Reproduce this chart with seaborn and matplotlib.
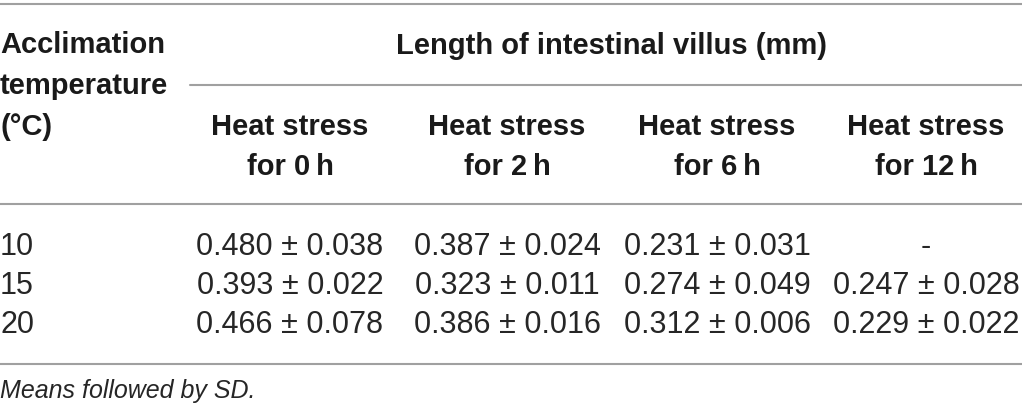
import matplotlib
matplotlib.use("Agg")
import matplotlib.pyplot as plt
import seaborn as sns

# table content
row_labels = ["10", "15", "20"]
col_headers = ["Heat stress\nfor 0\u2009h", "Heat stress\nfor 2\u2009h",
               "Heat stress\nfor 6\u2009h", "Heat stress\nfor 12\u2009h"]
means = [[0.480, 0.387, 0.231, None],
         [0.393, 0.323, 0.274, 0.247],
         [0.466, 0.386, 0.312, 0.229]]
sds = [[0.038, 0.024, 0.031, None],
       [0.022, 0.011, 0.049, 0.028],
       [0.078, 0.016, 0.006, 0.022]]
stub_header = "Acclimation\ntemperature\n(\u00b0C)"
span_header = "Length of intestinal villus (mm)"
footnote = "Means followed by SD."

sns.set_theme(style="white")
plt.rcParams['font.family'] = ['Liberation Sans', 'DejaVu Sans']

fig = plt.figure(figsize=(10.22, 4.15), dpi=100)
ax = fig.add_axes([0, 0, 1, 1])
ax.set_xlim(0, 1022)
ax.set_ylim(415, 0)
ax.axis("off")

ink = "#1a1a1a"
body = "#262626"
rule = "#a0a0a0"
fs_bold = 21
fs_body = 22

# horizontal rules
ax.plot([0, 1022], [4, 4], color=rule, lw=1.5)
ax.plot([190, 1022], [85, 85], color=rule, lw=1.5)
ax.plot([0, 1022], [204, 204], color=rule, lw=1.5)
ax.plot([0, 1022], [364, 364], color=rule, lw=1.5)

ax.text(0, 86, stub_header, ha="left", va="center", fontsize=fs_bold,
        fontweight="bold", color=ink, linespacing=1.6)
ax.text(611, 46, span_header, ha="center", va="center", fontsize=fs_bold,
        fontweight="bold", color=ink)

col_x = [290, 507, 717, 926]
for x, h in zip(col_x, col_headers):
    ax.text(x, 147, h, ha="center", va="center", fontsize=fs_bold,
            fontweight="bold", color=ink, linespacing=1.58)

row_y = [247, 286, 325]
for y, lab, mrow, srow in zip(row_y, row_labels, means, sds):
    ax.text(0, y, lab, ha="left", va="center", fontsize=fs_body, color=body)
    for x, m, s in zip(col_x, mrow, srow):
        txt = "-" if m is None else f"{m:.3f} \u00b1 {s:.3f}"
        ax.text(x, y, txt, ha="center", va="center", fontsize=fs_body,
                color=body)

ax.text(0, 391, footnote, ha="left", va="center", fontsize=18,
        style="italic", color=body)

fig.savefig("out.png", dpi=100)
